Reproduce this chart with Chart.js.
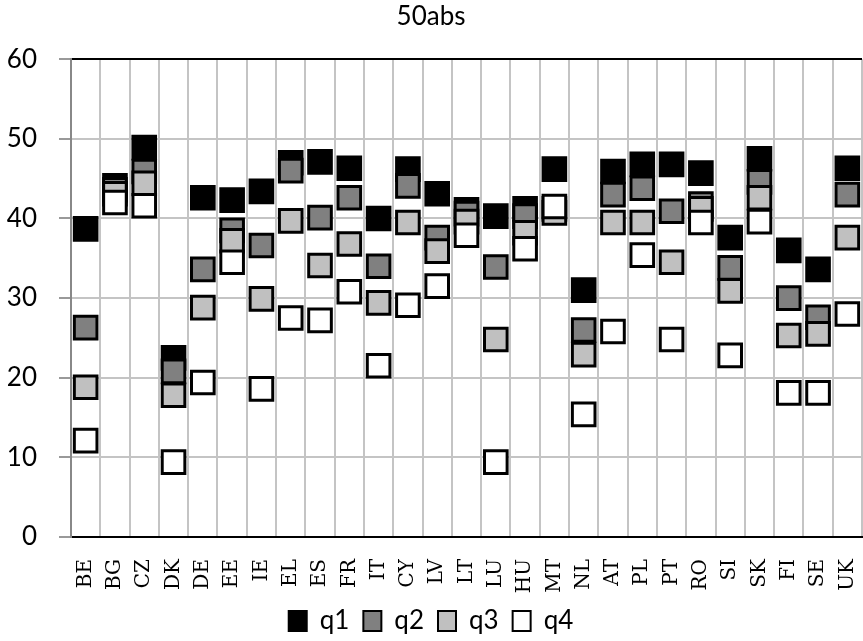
<!DOCTYPE html>
<html>
<head>
<meta charset="utf-8">
<script src="https://cdn.jsdelivr.net/npm/chart.js@4/dist/chart.umd.min.js"></script>
<style>
  html, body { margin: 0; padding: 0; background: #fff; overflow: hidden; }
</style>
</head>
<body>
<canvas id="myChart" width="863" height="641"></canvas>
<script>
// pays
const countries = ["BE", "BG", "CZ", "DK", "DE", "EE", "IE", "EL", "ES", "FR", "IT", "CY", "LV", "LT",
  "LU", "HU", "MT", "NL", "AT", "PL", "PT", "RO", "SI", "SK", "FI", "SE", "UK"];

// valeurs par quartile
const q1 = [38.7, 44.1, 48.9, 22.5, 42.6, 42.3, 43.4, 47.0, 47.1, 46.3, 40.0, 46.2, 43.1, 41.1,
  40.3, 41.2, 46.2, 31.0, 45.9, 46.8, 46.8, 45.7, 37.6, 47.5, 36.0, 33.6, 46.3];
const q2 = [26.3, 43.6, 45.9, 20.8, 33.6, 38.5, 36.6, 46.0, 40.1, 42.6, 34.0, 44.1, 37.6, 40.6,
  33.9, 40.3, 41.2, 26.0, 43.0, 43.8, 40.9, 41.8, 33.8, 44.6, 30.0, 27.6, 43.0];
const q3 = [18.8, 43.1, 44.4, 17.8, 28.8, 37.2, 29.9, 39.7, 34.1, 36.8, 29.4, 39.5, 35.9, 39.6,
  24.8, 38.2, 40.7, 22.9, 39.5, 39.5, 34.5, 41.2, 30.9, 42.6, 25.3, 25.5, 37.6];
const q4 = [12.1, 42.0, 41.6, 9.4, 19.4, 34.5, 18.6, 27.5, 27.2, 30.8, 21.5, 29.1, 31.5, 37.9,
  9.4, 36.2, 41.5, 15.4, 25.8, 35.4, 24.8, 39.5, 22.8, 39.6, 18.1, 18.1, 28.0];

const seriesNames = ["q1", "q2", "q3", "q4"];
const seriesColors = ["#000000", "#808080", "#c0c0c0", "#ffffff"];
const seriesValues = [q1, q2, q3, q4];

const sans = "Lato";

const data = {
  labels: countries,
  datasets: seriesValues.map((vals, i) => ({
    label: seriesNames[i],
    data: vals,
    showLine: false,
    backgroundColor: seriesColors[i],
    borderColor: "#000",
    borderWidth: 2,
    pointStyle: "rect",
    pointRadius: 16,
    pointHoverRadius: 16,
    pointBorderWidth: 3,
    pointBackgroundColor: seriesColors[i],
    pointBorderColor: "#000",
    order: 4 - i, // q4 dessiné par dessus
  })),
};

const config = {
  type: "line",
  data: data,
  options: {
    responsive: false,
    animation: false,
    events: [],
    layout: { autoPadding: false, padding: { left: 0, top: 0, bottom: -3, right: 1 } },
    plugins: {
      title: {
        display: true,
        text: "50abs",
        color: "#000",
        font: { family: sans, size: 26, weight: "normal", lineHeight: 1.2 },
        padding: { top: 1, bottom: 27 },
      },
      legend: {
        position: "bottom",
        labels: {
          color: "#000",
          font: { family: sans, size: 26 },
          boxWidth: 18,
          boxHeight: 20,
          padding: 14,
          sort: (a, b) => a.datasetIndex - b.datasetIndex,
        },
      },
      tooltip: { enabled: false },
    },
    scales: {
      x: {
        offset: true,
        grid: {
          offset: true,
          drawTicks: false,
          lineWidth: 2,
          color: (ctx) => (ctx.index === countries.length ? "#000" : "#c4c4c4"),
        },
        border: { color: "#000", width: 2 },
        ticks: {
          autoSkip: false,
          minRotation: 90,
          maxRotation: 90,
          padding: 22,
          color: "#000",
          font: { family: "DejaVu Serif", size: 20 },
        },
        afterFit: (scale) => {
          scale.height = 57;
          scale.paddingLeft = 0;
          scale.paddingRight = 0;
        },
      },
      y: {
        min: 0,
        max: 60,
        ticks: {
          stepSize: 10,
          padding: 22,
          color: "#000",
          font: { family: sans, size: 26 },
        },
        grid: {
          lineWidth: 2,
          tickLength: 12,
          tickColor: "#999",
          color: (ctx) => (ctx.tick && (ctx.tick.value === 60 || ctx.tick.value === 0) ? "#000" : "#c4c4c4"),
        },
        border: { color: "#888", width: 2 },
        afterFit: (scale) => {
          scale.width = 71;
        },
      },
    },
  },
};

const context = document.getElementById("myChart").getContext("2d");
const chart = new Chart(context, config);
</script>
</body>
</html>
